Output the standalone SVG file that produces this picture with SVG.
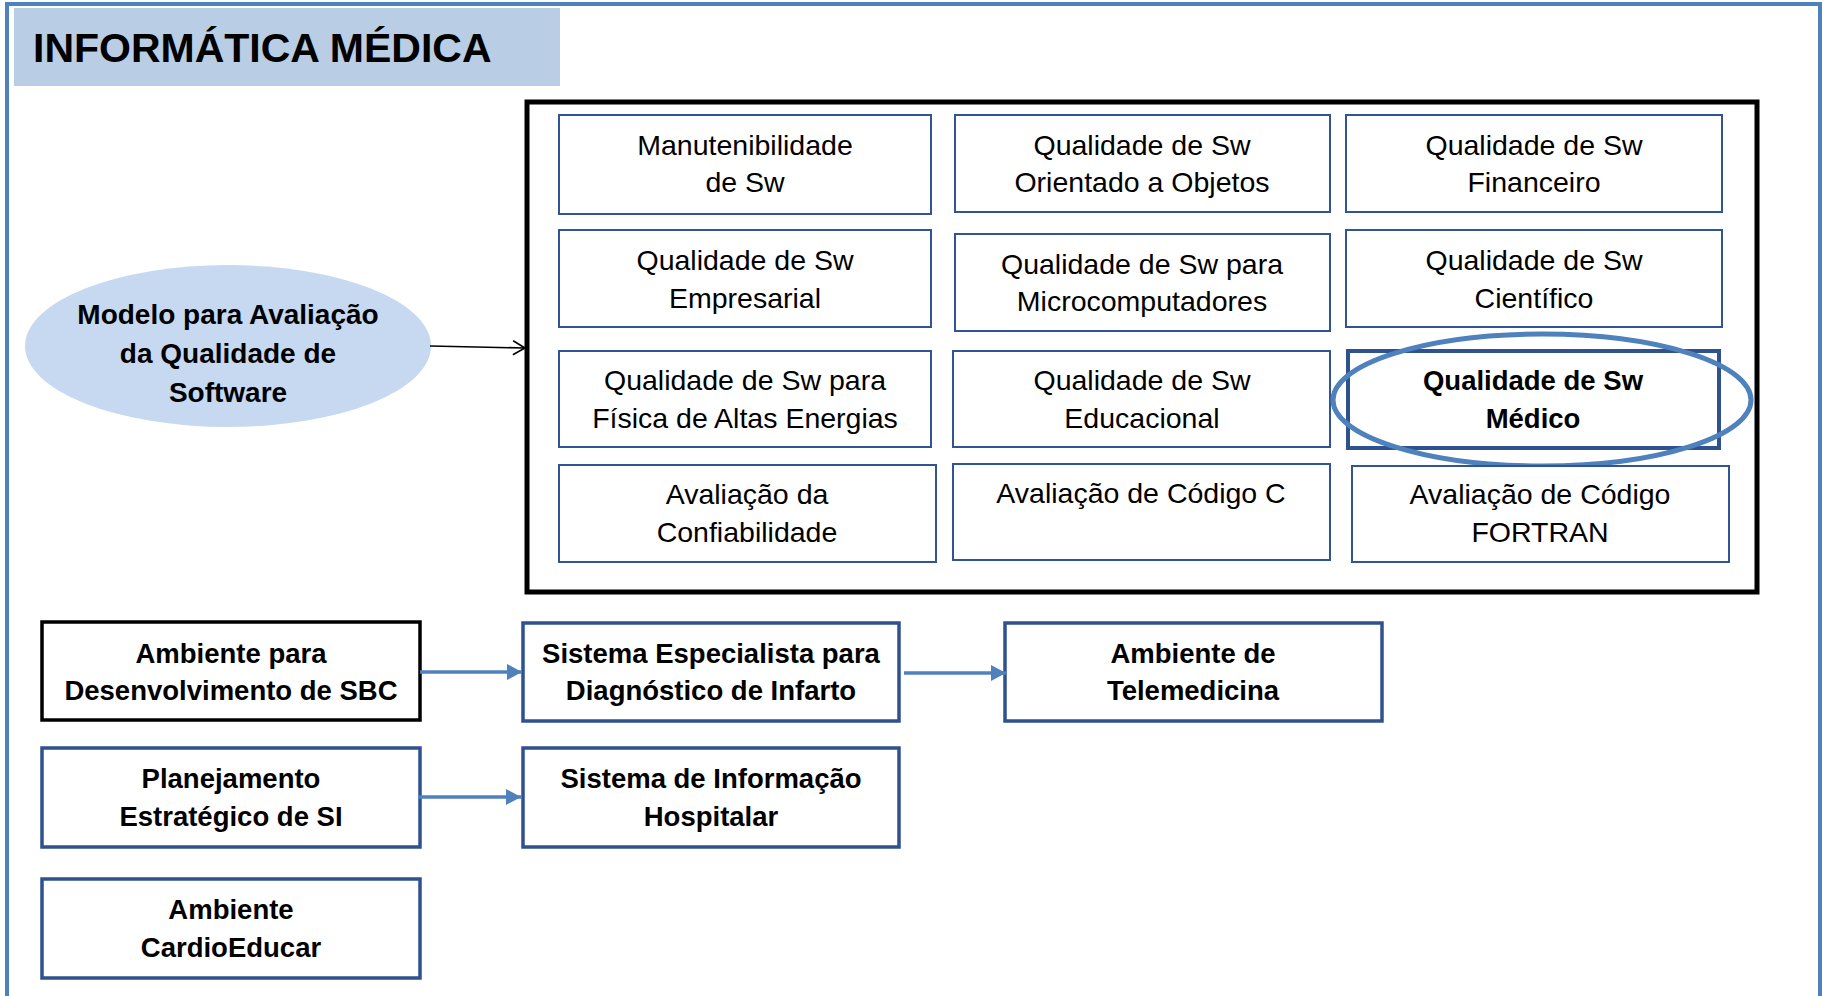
<svg xmlns="http://www.w3.org/2000/svg" width="1824" height="996" viewBox="0 0 1824 996">
<defs>
<style>
.t{font-family:"Liberation Sans",Arial,sans-serif;fill:#000;text-anchor:middle}
.r{font-size:28.5px}
.b{font-size:27.5px;font-weight:bold}
.ib{fill:#fff;stroke:#2F5597;stroke-width:2}
.ob{fill:#fff;stroke:#2F528F;stroke-width:3.5}
.bl{stroke:#4F81BD;stroke-width:3.5;fill:none}
</style>
<marker id="ah" markerUnits="userSpaceOnUse" markerWidth="16" markerHeight="18" refX="15" refY="8" orient="auto">
<path d="M0,0 L15,8 L0,16 Z" fill="#4F81BD"/>
</marker>
<marker id="av" markerUnits="userSpaceOnUse" markerWidth="16" markerHeight="18" refX="13" refY="8" orient="auto">
<path d="M1,1 L13,8 L1,15" fill="none" stroke="#000" stroke-width="1.6"/>
</marker>
</defs>
<rect x="0" y="0" width="1824" height="996" fill="#fff"/>
<rect x="7" y="4" width="1813" height="1010" fill="none" stroke="#4F81BD" stroke-width="4"/>

<g id="title">
<rect x="14" y="8" width="546" height="78" fill="#B9CDE5"/>
<text x="33" y="62" style="font-family:'Liberation Sans',Arial,sans-serif;font-size:41px;font-weight:bold">INFORMÁTICA MÉDICA</text>
</g>

<g id="modelo">
<ellipse cx="228" cy="346" rx="203" ry="81" fill="#C6D9F0"/>
<text class="t b" x="228" y="324" style="font-size:28px">Modelo para Avaliação</text>
<text class="t b" x="228" y="363" style="font-size:28px">da Qualidade de</text>
<text class="t b" x="228" y="402" style="font-size:28px">Software</text>
</g>

<g id="grupo-qualidade">
<rect x="527" y="102" width="1230" height="490" fill="none" stroke="#000" stroke-width="5"/>
</g>

<g id="manutenibilidade">
<rect class="ib" x="559" y="115" width="372" height="99"/>
<text class="t r" x="745" y="155">Manutenibilidade</text>
<text class="t r" x="745" y="192">de Sw</text>
</g>
<g id="orientado">
<rect class="ib" x="955" y="115" width="375" height="97"/>
<text class="t r" x="1142" y="155">Qualidade de Sw</text>
<text class="t r" x="1142" y="192">Orientado a Objetos</text>
</g>
<g id="financeiro">
<rect class="ib" x="1346" y="115" width="376" height="97"/>
<text class="t r" x="1534" y="155">Qualidade de Sw</text>
<text class="t r" x="1534" y="192">Financeiro</text>
</g>

<g id="empresarial">
<rect class="ib" x="559" y="230" width="372" height="97"/>
<text class="t r" x="745" y="270">Qualidade de Sw</text>
<text class="t r" x="745" y="308">Empresarial</text>
</g>
<g id="microcomputadores">
<rect class="ib" x="955" y="234" width="375" height="97"/>
<text class="t r" x="1142" y="274">Qualidade de Sw para</text>
<text class="t r" x="1142" y="311">Microcomputadores</text>
</g>
<g id="cientifico">
<rect class="ib" x="1346" y="230" width="376" height="97"/>
<text class="t r" x="1534" y="270">Qualidade de Sw</text>
<text class="t r" x="1534" y="308">Científico</text>
</g>

<g id="fisica">
<rect class="ib" x="559" y="351" width="372" height="96"/>
<text class="t r" x="745" y="390">Qualidade de Sw para</text>
<text class="t r" x="745" y="428">Física de Altas Energias</text>
</g>
<g id="educacional">
<rect class="ib" x="953" y="351" width="377" height="96"/>
<text class="t r" x="1142" y="390">Qualidade de Sw</text>
<text class="t r" x="1142" y="428">Educacional</text>
</g>
<g id="medico">
<rect x="1348" y="351" width="371" height="97" fill="#fff" stroke="#2F528F" stroke-width="4"/>
<text class="t b" x="1533" y="390">Qualidade de Sw</text>
<text class="t b" x="1533" y="428">Médico</text>
<ellipse cx="1542" cy="400" rx="209" ry="66" fill="none" stroke="#4F81BD" stroke-width="5"/>
</g>

<g id="confiabilidade">
<rect class="ib" x="559" y="465" width="377" height="97"/>
<text class="t r" x="747" y="504">Avaliação da</text>
<text class="t r" x="747" y="542">Confiabilidade</text>
</g>
<g id="codigo-c">
<rect class="ib" x="953" y="464" width="377" height="96"/>
<text class="t r" x="1141" y="503">Avaliação de Código C</text>
</g>
<g id="fortran">
<rect class="ib" x="1352" y="466" width="377" height="96"/>
<text class="t r" x="1540" y="504">Avaliação de Código</text>
<text class="t r" x="1540" y="542">FORTRAN</text>
</g>

<g id="sbc">
<rect x="42" y="622" width="378" height="98" fill="#fff" stroke="#000" stroke-width="3.5"/>
<text class="t b" x="231" y="663">Ambiente para</text>
<text class="t b" x="231" y="700">Desenvolvimento de SBC</text>
</g>
<g id="infarto">
<rect class="ob" x="523" y="623" width="376" height="98"/>
<text class="t b" x="711" y="663">Sistema Especialista para</text>
<text class="t b" x="711" y="700">Diagnóstico de Infarto</text>
</g>
<g id="telemedicina">
<rect class="ob" x="1005" y="623" width="377" height="98"/>
<text class="t b" x="1193" y="663">Ambiente de</text>
<text class="t b" x="1193" y="700">Telemedicina</text>
</g>
<g id="planejamento">
<rect class="ob" x="42" y="748" width="378" height="99"/>
<text class="t b" x="231" y="788">Planejamento</text>
<text class="t b" x="231" y="826">Estratégico de SI</text>
</g>
<g id="hospitalar">
<rect class="ob" x="523" y="748" width="376" height="99"/>
<text class="t b" x="711" y="788">Sistema de Informação</text>
<text class="t b" x="711" y="826">Hospitalar</text>
</g>
<g id="cardioeducar">
<rect class="ob" x="42" y="879" width="378" height="99"/>
<text class="t b" x="231" y="919">Ambiente</text>
<text class="t b" x="231" y="957">CardioEducar</text>
</g>

<g id="connectors">
<line x1="430" y1="346" x2="525" y2="348" stroke="#000" stroke-width="1.6" marker-end="url(#av)"/>
<line class="bl" x1="420" y1="672" x2="522" y2="672" marker-end="url(#ah)"/>
<line class="bl" x1="904" y1="673" x2="1006" y2="673" marker-end="url(#ah)"/>
<line class="bl" x1="418" y1="797" x2="521" y2="797" marker-end="url(#ah)"/>
</g>
</svg>
